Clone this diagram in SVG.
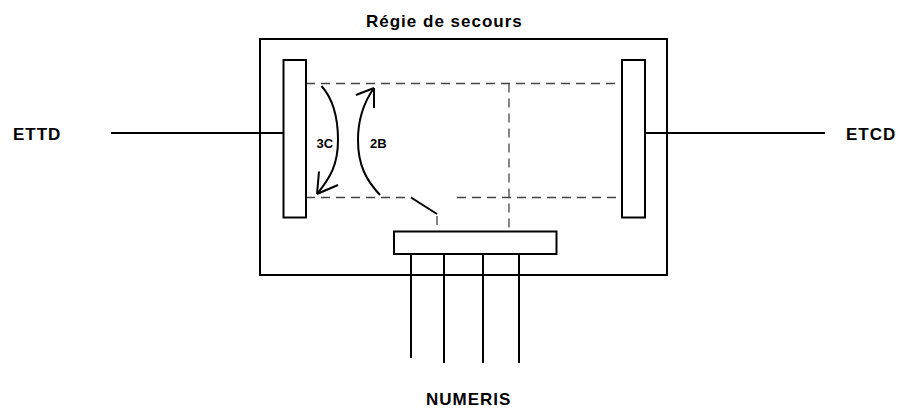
<svg xmlns="http://www.w3.org/2000/svg" width="901" height="410" viewBox="0 0 901 410">
<style>
.s{fill:none;stroke:#000;stroke-width:2}
.b{fill:#fff;stroke:#000;stroke-width:2}
.d{fill:none;stroke:#444;stroke-width:1.3;stroke-dasharray:9,6}
.t{font-family:"Liberation Sans",Arial,sans-serif;font-weight:bold;font-size:17px;letter-spacing:1px;fill:#000}
.l{font-family:"Liberation Sans",Arial,sans-serif;font-weight:bold;font-size:13px;fill:#000}
</style>
<rect width="901" height="410" fill="#fff"/>
<g id="regie">
<rect class="s" x="260" y="39" width="407" height="236"/>
<text class="t" x="366" y="27">Régie de secours</text>
</g>
<g id="connectors">
<line class="s" x1="111" y1="133" x2="283" y2="133"/>
<line class="s" x1="645" y1="133" x2="825" y2="133"/>
<line class="d" x1="306" y1="83.5" x2="622" y2="83.5"/>
<line class="d" x1="306" y1="197.5" x2="412" y2="197.5"/>
<line class="d" x1="457" y1="197.5" x2="622" y2="197.5"/>
<line class="d" x1="509" y1="83.5" x2="509" y2="231"/>
<line class="s" x1="411" y1="197.5" x2="437" y2="214" stroke-width="1.6"/>
<line class="d" x1="437" y1="216" x2="437" y2="231" stroke-dasharray="6,4"/>
<line class="s" x1="411" y1="254" x2="411" y2="358"/>
<line class="s" x1="444" y1="254" x2="444" y2="363"/>
<line class="s" x1="483" y1="254" x2="483" y2="363"/>
<line class="s" x1="519" y1="254" x2="519" y2="363"/>
<path class="s" stroke-width="1.6" d="M321.5,86 C334,100 338,120 338,140 C338,165 330,178 317,194 M317,194 L319,171.5 M317,194 L338,185"/>
<path class="s" stroke-width="1.6" d="M380,195 C366,180 358,165 358,140 C358,118 364,102 374,88 M374,88 L356,95 M374,88 L374,108"/>
<text class="l" x="316.5" y="148">3C</text>
<text class="l" x="370" y="148">2B</text>
</g>
<g id="ettd-bar"><rect class="b" x="283.5" y="60" width="22.5" height="157.5"/></g>
<g id="etcd-bar"><rect class="b" x="622" y="60" width="23" height="157.5"/></g>
<g id="numeris-box"><rect class="b" x="394" y="231.5" width="162.5" height="22.5"/></g>
<g id="ettd"><text class="t" x="13" y="140">ETTD</text></g>
<g id="etcd"><text class="t" x="846" y="140">ETCD</text></g>
<g id="numeris"><text class="t" x="426" y="405">NUMERIS</text></g>
</svg>
